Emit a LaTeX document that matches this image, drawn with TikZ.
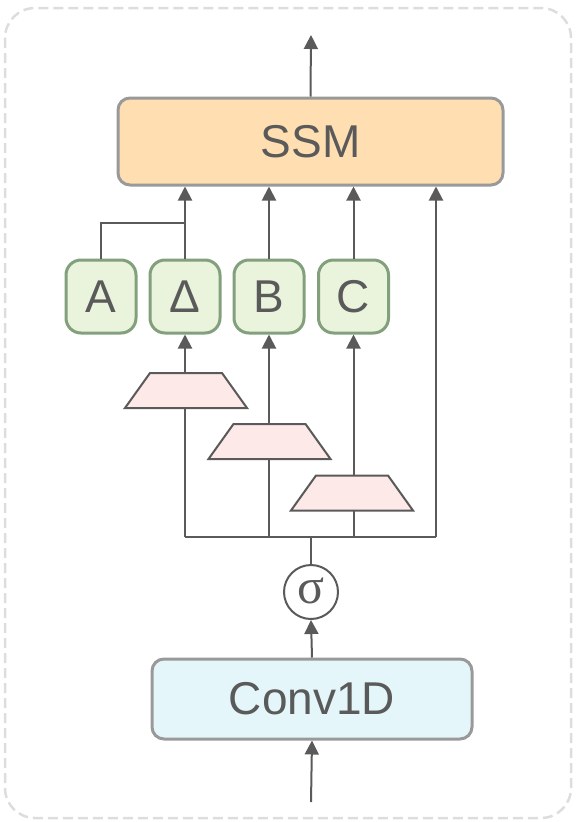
\documentclass[tikz,border=0pt]{standalone}
\usepackage{fontspec}
\setmainfont{Liberation Sans}
\newfontfamily\symfont{Liberation Serif}
\usetikzlibrary{arrows.meta}
\definecolor{ink}{HTML}{5A5A5A}
\definecolor{framegray}{HTML}{DDDDDD}
\definecolor{boxgray}{HTML}{999999}
\definecolor{ssmfill}{HTML}{FFDEB2}
\definecolor{parfill}{HTML}{EAF4DC}
\definecolor{pargreen}{HTML}{82A07C}
\definecolor{projfill}{HTML}{FDE9E8}
\definecolor{convfill}{HTML}{E4F6F9}
\tikzset{
  lbl/.style={text=ink, font=\fontsize{46}{50}\selectfont},
  bigbox/.style={draw=boxgray, line width=3pt, rounded corners=12pt, lbl, inner sep=0pt},
  parbox/.style={draw=pargreen, fill=parfill, line width=3pt, rounded corners=15pt,
    minimum width=70pt, minimum height=73pt, lbl, inner sep=0pt},
  proj/.style={draw=ink, fill=projfill, line width=2pt, line join=miter},
  wire/.style={draw=ink, line width=2pt},
  flow/.style={wire, -{Triangle[length=14pt,width=14pt]}},
}
% linear projection block: trapezoid centred at (#2,#3), with named top and bottom ends
\newcommand{\projblock}[3]{%
  \draw[proj] (#2-61,#3+17.5) -- (#2+61,#3+17.5) -- (#2+36,#3-17.5) -- (#2-36,#3-17.5) -- cycle;
  \coordinate (#1top) at (#2,#3-17.5);
  \coordinate (#1bot) at (#2,#3+17.5);
}
\begin{document}
\begin{tikzpicture}[x=1pt, y=-1pt]
  \useasboundingbox (0,0) rectangle (577,822);
  % outer frame
  \draw[framegray, line width=2.5pt, dash pattern=on 10pt off 5pt, rounded corners=30pt]
    (5,8) rectangle (571,818);

  % blocks
  \node[bigbox, fill=ssmfill, minimum width=385pt, minimum height=87pt] (ssm) at (310.5,141.5) {SSM};
  \node[parbox] (A) at (101,296.5) {A};
  \node[parbox] (D) at (185,296.5) {Δ};
  \node[parbox] (B) at (269,296.5) {B};
  \node[parbox] (C) at (353.5,296.5) {C};
  \projblock{t1}{186}{390.5}
  \projblock{t2}{269.5}{441.5}
  \projblock{t3}{352}{493}
  \node[circle, draw=ink, fill=white, line width=2pt, minimum size=54pt, inner sep=0pt,
        text=ink, font=\symfont\fontsize{50}{54}\selectfont] (sig) at (311,592) {\raisebox{2pt}{σ}};
  \node[bigbox, fill=convfill, minimum width=320pt, minimum height=80pt] (conv) at (312,699) {Conv1D};

  % free ends and junctions
  \coordinate (out) at (311,35);
  \coordinate (inp) at (311,802);
  \coordinate (bus) at (311,537);
  \coordinate (busL) at (185,537);
  \coordinate (busR) at (436,537);
  \coordinate (merge) at (185,223);

  % input path
  \draw[flow] (inp) -- (conv.south);
  \draw[flow] (conv.north) -- (sig.south);
  \draw[wire] (sig.north) -- (bus);
  \draw[wire] (busL) -- (busR);

  % projections
  \draw[wire] (busL) -- (busL |- t1bot);
  \draw[wire] (B.south |- bus) -- (B.south |- t2bot);
  \draw[wire] (C.south |- bus) -- (C.south |- t3bot);
  \draw[flow] (D.south |- t1top) -- (D.south);
  \draw[flow] (B.south |- t2top) -- (B.south);
  \draw[flow] (C.south |- t3top) -- (C.south);

  % into the SSM
  \draw[wire] (A.north) |- (merge);
  \draw[flow] (D.north) -- (D.north |- ssm.south);
  \draw[flow] (B.north) -- (B.north |- ssm.south);
  \draw[flow] (C.north) -- (C.north |- ssm.south);
  \draw[flow] (busR) -- (busR |- ssm.south);

  % output
  \draw[flow] (ssm.north) -- (out);
\end{tikzpicture}
\end{document}
